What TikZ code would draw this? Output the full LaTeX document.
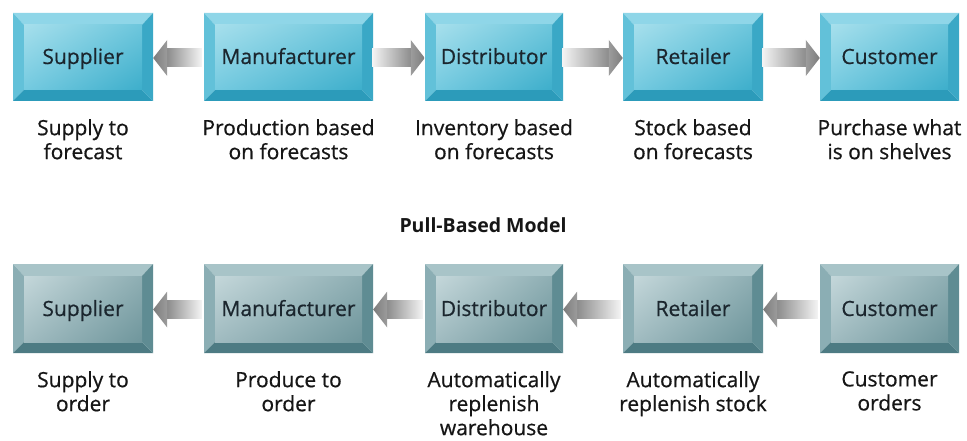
\documentclass[tikz,border=0pt]{standalone}
\usepackage{fontspec}
\setmainfont{Open Sans}
\newfontfamily\medfont{Open Sans}[FakeBold=0.6]
\usetikzlibrary{calc,shadings}
\definecolor{tTop}{HTML}{8FD6E8}
\definecolor{tLeft}{HTML}{62C1D9}
\definecolor{tBot}{HTML}{2C9BBA}
\definecolor{tRight}{HTML}{3AA8C6}
\definecolor{tUL}{HTML}{A6DFEC}
\definecolor{tUR}{HTML}{6CC6DC}
\definecolor{tLL}{HTML}{74CAE0}
\definecolor{tLR}{HTML}{3DAECB}
\definecolor{bTop}{HTML}{A8C4C8}
\definecolor{bLeft}{HTML}{8BAEB4}
\definecolor{bBot}{HTML}{4D7B83}
\definecolor{bRight}{HTML}{5F8C93}
\definecolor{bUL}{HTML}{C4D7DA}
\definecolor{bUR}{HTML}{8EAEB3}
\definecolor{bLL}{HTML}{A0BBC0}
\definecolor{bLR}{HTML}{6F969C}
\definecolor{arrdark}{HTML}{8A8A8A}
\definecolor{arrlight}{HTML}{F4F4F4}
\definecolor{headdark}{HTML}{7C7C7C}
\definecolor{headlight}{HTML}{9C9C9C}
\definecolor{boxtxt}{HTML}{1B262E}
\definecolor{lbltxt}{HTML}{161616}
\newcommand\bevelfill[8]{%
  \coordinate (pSW) at (path picture bounding box.south west);
  \coordinate (pNE) at (path picture bounding box.north east);
  \coordinate (pNW) at (path picture bounding box.north west);
  \coordinate (pSE) at (path picture bounding box.south east);
  \coordinate (iSW) at ([shift={(11pt,11pt)}]pSW);
  \coordinate (iNE) at ([shift={(-11pt,-12pt)}]pNE);
  \coordinate (iNW) at ([shift={(11pt,-12pt)}]pNW);
  \coordinate (iSE) at ([shift={(-11pt,11pt)}]pSE);
  \fill[#1] (pNW) -- (pNE) -- (iNE) -- (iNW) -- cycle;
  \fill[#2] (pNW) -- (iNW) -- (iSW) -- (pSW) -- cycle;
  \fill[#3] (pSW) -- (iSW) -- (iSE) -- (pSE) -- cycle;
  \fill[#4] (pNE) -- (pSE) -- (iSE) -- (iNE) -- cycle;
  \shade[upper left=#5, upper right=#6, lower left=#7, lower right=#8] (iSW) rectangle (iNE);
}
\newcommand\arrowleft[2]{% from node #1 (right) to node #2 (left), pointing left
  \shade[left color=arrdark, right color=arrlight]
    ([xshift=13pt,yshift=8pt]#2.east) rectangle ([xshift=-2pt,yshift=-10pt]#1.west);
  \shade[left color=headdark, right color=headlight]
    ([yshift=-1pt]#2.east) -- ([xshift=14pt,yshift=17pt]#2.east)
    -- ([xshift=14pt,yshift=-19pt]#2.east) -- cycle;
}
\newcommand\arrowright[2]{% from node #1 (left) to node #2 (right), pointing right
  \shade[left color=arrlight, right color=arrdark]
    ([xshift=-1pt,yshift=8pt]#1.east) rectangle ([xshift=-13pt,yshift=-10pt]#2.west);
  \shade[left color=headlight, right color=headdark]
    ([yshift=-1pt]#2.west) -- ([xshift=-14pt,yshift=17pt]#2.west)
    -- ([xshift=-14pt,yshift=-19pt]#2.west) -- cycle;
}
\tikzset{
  box/.style={minimum width=#1, inner sep=0pt, text=boxtxt,
    font=\medfont\fontsize{21}{25}\selectfont},
  pushbox/.style={box=#1, minimum height=88pt, text height=18pt, text depth=4pt,
    path picture={\bevelfill{tTop}{tLeft}{tBot}{tRight}{tUL}{tUR}{tLL}{tLR}}},
  pullbox/.style={box=#1, minimum height=89pt, text height=19pt, text depth=4pt,
    path picture={\bevelfill{bTop}{bLeft}{bBot}{bRight}{bUL}{bUR}{bLL}{bLR}}},
  lbl/.style={anchor=north, inner sep=0pt, align=center, text=lbltxt,
    font=\medfont\fontsize{21}{24}\selectfont},
  ttl/.style={inner sep=0pt, text=lbltxt, font=\fontsize{19.5}{22}\selectfont\bfseries},
}
\begin{document}
\begin{tikzpicture}[x=1pt,y=-1pt]
\useasboundingbox[fill=white] (0,0) rectangle (967,441);
% push row
\node[pushbox=140pt] (s1) at (83,57) {Supplier};
\node[pushbox=169pt] (m1) at (288.5,57) {Manufacturer};
\node[pushbox=138pt] (d1) at (494,57) {Distributor};
\node[pushbox=140pt] (r1) at (693,57) {Retailer};
\node[pushbox=139pt] (c1) at (889.5,57) {Customer};
\arrowleft{m1}{s1}
\arrowright{m1}{d1}
\arrowright{d1}{r1}
\arrowright{r1}{c1}
\node[lbl] (ls1) at (83,119) {Supply to\\forecast};
\node[lbl] (lm1) at (288.5,119) {Production based\\on forecasts};
\node[lbl] (ld1) at (494,119) {Inventory based\\on forecasts};
\node[lbl] (lr1) at (693,119) {Stock based\\on forecasts};
\node[lbl] (lc1) at (889.5,119) {Purchase what\\is on shelves};
% title
\node[ttl] (title) at (483,225) {Pull-Based Model};
% pull row
\node[pullbox=140pt] (s2) at (83,308.5) {Supplier};
\node[pullbox=169pt] (m2) at (288.5,308.5) {Manufacturer};
\node[pullbox=138pt] (d2) at (494,308.5) {Distributor};
\node[pullbox=140pt] (r2) at (693,308.5) {Retailer};
\node[pullbox=139pt] (c2) at (889.5,308.5) {Customer};
\arrowleft{m2}{s2}
\arrowleft{d2}{m2}
\arrowleft{r2}{d2}
\arrowleft{c2}{r2}
\node[lbl] (ls2) at (83,371) {Supply to\\order};
\node[lbl] (lm2) at (288.5,371) {Produce to\\order};
\node[lbl] (ld2) at (494,371) {Automatically\\replenish\\warehouse};
\node[lbl] (lr2) at (693,371) {Automatically\\replenish stock};
\node[lbl] (lc2) at (889.5,371) {Customer\\orders};
\end{tikzpicture}
\end{document}
